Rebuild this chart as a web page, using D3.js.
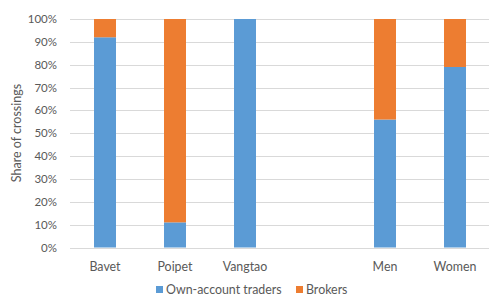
<!DOCTYPE html>
<html>
<head>
<meta charset="utf-8">
<script src="https://cdn.jsdelivr.net/npm/d3@7"></script>
<style>
  html, body { margin: 0; padding: 0; background: #fff; overflow: hidden; }
  text { font-family: Lato, "Open Sans", sans-serif; }
</style>
</head>
<body>
<svg id="chart" width="489" height="301"></svg>
<script>
// data (share of crossings, %)
var categories = ["Bavet", "Poipet", "Vangtao", "", "Men", "Women"];
var ownAccount = [92, 11, 100, null, 56, 79];
var brokers = [8, 89, 0, null, 44, 21];
var seriesNames = ["Own-account traders", "Brokers"];
var yTicks = [0, 10, 20, 30, 40, 50, 60, 70, 80, 90, 100];

var colors = ["#5b9bd5", "#ed7d31"];
var svg = d3.select("#chart");

var x = d3.scaleBand()
    .domain(categories)
    .range([70, 490])
    .paddingInner(0.686)
    .paddingOuter(0.343);

var y = d3.scaleLinear()
    .domain([0, 100])
    .range([247.5, 19]);

// gridlines
svg.append("g")
    .selectAll("line")
    .data(yTicks)
    .enter()
    .append("line")
    .attr("x1", 70)
    .attr("x2", 489)
    .attr("y1", function (d) { return Math.round(y(d)) + 0.5; })
    .attr("y2", function (d) { return Math.round(y(d)) + 0.5; })
    .attr("stroke", "#d9d9d9")
    .attr("stroke-width", 1);

// y axis tick labels
svg.append("g")
    .selectAll("text")
    .data(yTicks)
    .enter()
    .append("text")
    .attr("x", 57)
    .attr("y", function (d) { return y(d) + 4; })
    .attr("text-anchor", "end")
    .attr("font-size", 11.5)
    .attr("fill", "#595959")
    .text(function (d) { return d + "%"; });

svg.append("text")
    .attr("transform", "translate(21,133) rotate(-90)")
    .attr("text-anchor", "middle")
    .attr("font-size", 12.5)
    .attr("fill", "#595959")
    .text("Share of crossings");

// stacked bars
var rows = categories.map(function (c, i) {
    return { cat: c, own: ownAccount[i], brk: brokers[i] };
}).filter(function (r) { return r.own !== null; });

var stack = d3.stack().keys(["own", "brk"])(rows);

svg.append("g")
    .selectAll("g")
    .data(stack)
    .enter()
    .append("g")
    .attr("fill", function (d, i) { return colors[i]; })
    .selectAll("rect")
    .data(function (d) { return d; })
    .enter()
    .append("rect")
    .attr("x", function (d) { return x(d.data.cat); })
    .attr("width", x.bandwidth())
    .attr("y", function (d) { return y(d[1]); })
    .attr("height", function (d) { return y(d[0]) - y(d[1]); });

// category labels
svg.append("g")
    .selectAll("text")
    .data(categories.filter(function (c) { return c !== ""; }))
    .enter()
    .append("text")
    .attr("x", function (d) { return x(d) + x.bandwidth() / 2; })
    .attr("y", 271)
    .attr("text-anchor", "middle")
    .attr("font-size", 12.4)
    .attr("fill", "#595959")
    .text(function (d) { return d; });

// legend
var legendX = [156, 296];
var legend = svg.append("g")
    .selectAll("g")
    .data(seriesNames)
    .enter()
    .append("g")
    .attr("transform", function (d, i) { return "translate(" + legendX[i] + ",294)"; });
legend.append("rect")
    .attr("x", 0)
    .attr("y", -8)
    .attr("width", 7)
    .attr("height", 7)
    .attr("fill", function (d, i) { return colors[i]; });
legend.append("text")
    .attr("x", 10)
    .attr("y", 0)
    .attr("font-size", 12.4)
    .attr("fill", "#595959")
    .text(function (d) { return d; });
</script>
</body>
</html>
